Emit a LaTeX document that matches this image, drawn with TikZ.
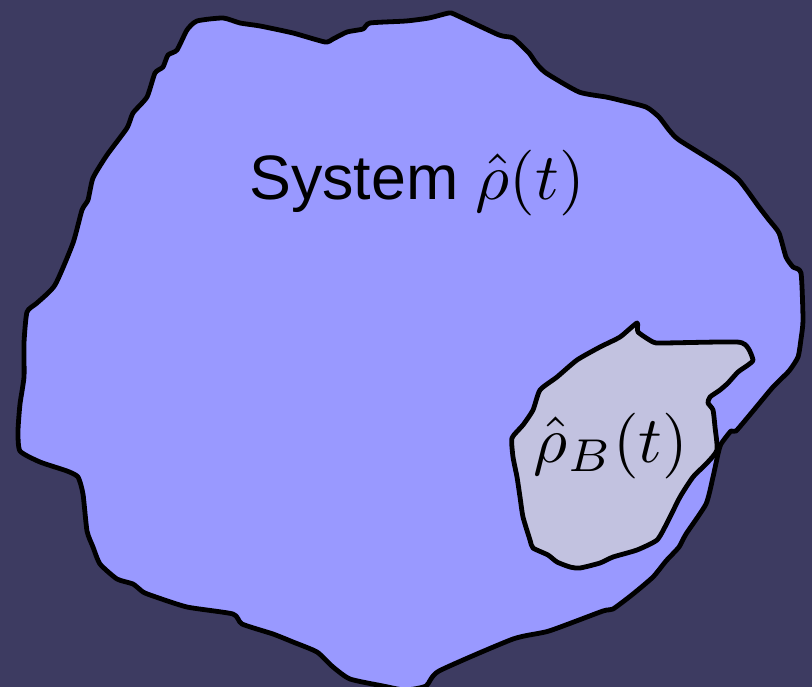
\documentclass[tikz,border=0pt]{standalone}
\usepackage{fontspec}
\usepackage{graphicx}
\setsansfont{Liberation Sans}
\definecolor{bgnavy}{HTML}{3D3B61}
\definecolor{sysblue}{HTML}{9999FF}
\definecolor{bathgrey}{HTML}{C2C2E0}
\newcommand{\bigmath}[1]{\scalebox{6.6}{\fontsize{10}{12}\selectfont$#1$}}
\tikzset{
  blob/.style={draw=black, line width=4.8bp, line join=round},
  lbl/.style={inner sep=0pt, font=\fontsize{63}{72}\selectfont}
}
\begin{document}
\begin{tikzpicture}[x=1bp, y=-1bp]
\useasboundingbox (0,0) rectangle (812,687);
\fill[bgnavy] (0,0) rectangle (812,687);
\begin{scope}
\clip (0,0) rectangle (812,687);
% system blob
\draw[blob, fill=sysblue] plot[smooth cycle, tension=0.35] coordinates {
 (197,21) (223,18) (240,23) (260,26) (293,33) (325,42) (333,39) (347,32)
 (363,29) (370,23) (406,21) (429,18) (449,13) (456,15) (499,35) (513,38)
 (529,53) (536,63) (546,73) (579,92) (606,97) (619,100) (646,107) (659,117)
 (669,130) (679,140) (719,165) (739,180) (759,207) (769,220) (779,233)
 (786,257) (793,267) (801,273) (803,320) (801,339) (798,357) (789,371)
 (773,387) (753,411) (736,431) (731,431) (721,444) (718,454) (713,477)
 (706,504) (686,534) (679,547) (666,561) (653,577) (633,594) (613,609)
 (603,611) (549,631) (513,639) (439,671) (426,686) (405,690) (383,686)
 (350,679) (333,667) (317,652) (293,642) (273,634) (242,624) (233,614)
 (187,607) (153,596) (143,592) (133,584) (117,579) (100,564) (93,547)
 (87,531) (83,494) (78,477) (67,471) (40,462) (20,451) (18,431) (20,404)
 (24,377) (24,343) (27,312) (37,303) (55,285) (73,243) (82,210) (88,200)
 (93,178) (107,155) (127,128) (133,113) (147,97) (155,73) (163,67)
 (168,55) (177,50) (187,30)
};
% bath blob
\draw[blob, fill=bathgrey] plot[smooth cycle, tension=0.35] coordinates {
 (637,323) (638,332) (653,342) (663,343) (737,342) (748,348) (753,360)
 (748,365) (738,372) (728,383) (720,390) (710,397) (708,403) (713,410)
 (715,427) (717,450) (707,463) (693,477) (680,497) (667,523) (657,540)
 (637,550) (613,557) (600,563) (580,568) (570,567) (557,562) (548,555)
 (533,548) (530,540) (523,517) (520,497) (517,477) (513,457) (512,438)
 (523,425) (533,410) (540,390) (557,377) (577,360) (600,347) (620,337)
};
\end{scope}
\node[lbl, anchor=base] (sys) at (417,199) {\sffamily System \bigmath{\hat{\rho}(t)}};
\node[lbl, anchor=base] (bath) at (611,462) {\bigmath{\hat{\rho}_B(t)}};
\end{tikzpicture}
\end{document}
